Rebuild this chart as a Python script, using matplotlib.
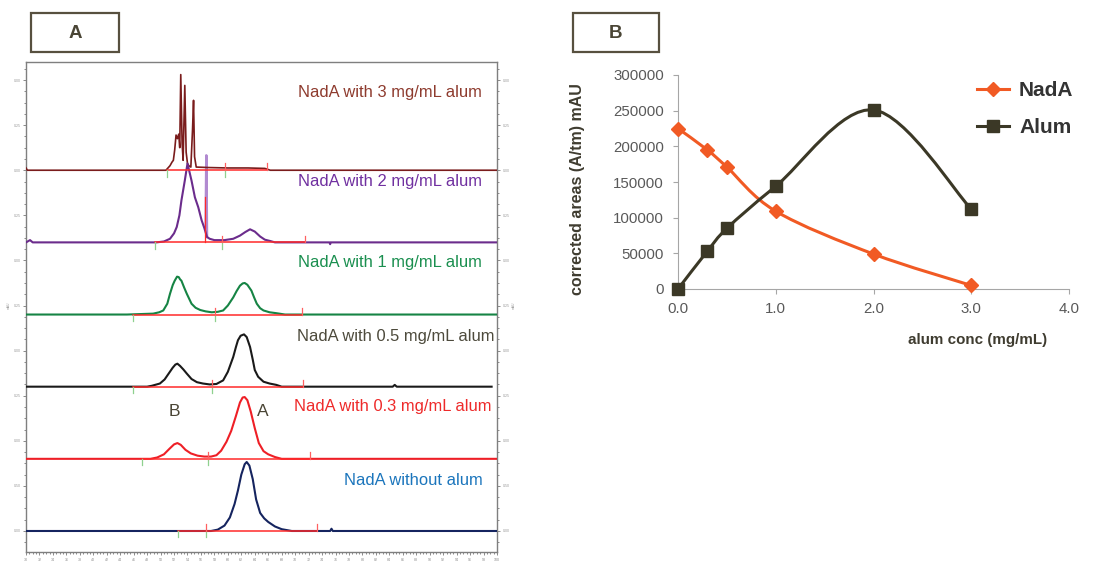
import numpy as np
import matplotlib
matplotlib.use("Agg")
import matplotlib.pyplot as plt
from matplotlib.patches import Rectangle, PathPatch
from matplotlib.path import Path
from matplotlib.lines import Line2D

plt.rcParams['font.family'] = ['Liberation Sans', 'DejaVu Sans']

# ---------------- panel A: chromatograms (time [min], signal above own baseline) ----------------
t_3 = [30.0, 30.2, 30.5, 50.8, 51.4, 51.7, 51.9, 52.1, 52.3, 52.5, 52.7, 52.85, 53.0, 53.2, 53.35,
       53.6, 53.8, 54.0, 54.2, 54.5, 54.75, 54.9, 55.05, 55.3, 57.0, 60.0, 63.0, 65.5, 66.3, 100.0]
s_3 = [0.05, 0.0, 0.0, 0.0, 0.1, 0.18, 0.22, 0.45, 0.78, 0.70, 0.80, 0.5, 2.12, 0.6, 0.22,
       1.88, 0.4, 0.15, 0.1, 0.07, 0.9, 1.55, 0.3, 0.07, 0.06, 0.05, 0.05, 0.04, 0.0, 0.0]

t_2 = [30.0, 30.6, 31.0, 49.4, 50.5, 51.4, 52.0, 52.4, 52.8, 53.1, 53.6, 54.0, 54.6, 55.1, 55.6,
       56.1, 56.5, 56.9, 57.3, 58.0, 59.5, 60.8, 61.8, 62.6, 63.3, 64.0, 64.8, 65.5, 66.3, 67.0,
       75.1, 75.2, 75.3, 100.0]
s_2 = [0.0, 0.05, 0.0, 0.0, 0.02, 0.08, 0.2, 0.34, 0.6, 0.93, 1.37, 1.75, 1.37, 1.0, 0.78,
       0.49, 0.32, 0.12, 0.08, 0.05, 0.05, 0.08, 0.15, 0.23, 0.29, 0.24, 0.13, 0.06, 0.03, 0.0,
       0.0, -0.04, 0.0, 0.0]
t_2_spike = [56.7, 56.8, 56.9]
s_2_spike = [0.3, 1.93, 0.12]

t_1 = [30.0, 45.0, 48.9, 49.8, 50.4, 51.0, 51.4, 51.8, 52.1, 52.45, 52.7, 52.9, 53.1, 53.5, 53.9,
       54.6, 55.2, 55.9, 56.7, 57.6, 58.5, 59.3, 60.0, 60.8, 61.3, 61.8, 62.2, 62.5, 62.9, 63.5,
       63.9, 64.3, 64.8, 65.3, 66.2, 67.2, 68.5, 100.0]
s_1 = [0.0, 0.0, 0.02, 0.05, 0.09, 0.24, 0.46, 0.65, 0.75, 0.84, 0.83, 0.78, 0.75, 0.6, 0.46,
       0.24, 0.15, 0.10, 0.07, 0.05, 0.06, 0.09, 0.2, 0.38, 0.52, 0.64, 0.69, 0.70, 0.66, 0.53,
       0.38, 0.24, 0.14, 0.09, 0.05, 0.03, 0.0, 0.0]

t_05 = [30.0, 48.0, 48.7, 49.9, 50.6, 51.2, 51.8, 52.2, 52.5, 52.9, 53.4, 53.9, 54.6, 55.4, 56.3,
        57.3, 58.3, 59.3, 60.0, 60.8, 61.2, 61.5, 61.9, 62.4, 62.8, 63.3, 63.7, 64.0, 64.5, 65.3,
        66.2, 67.2, 68.0, 84.5, 84.8, 85.1, 99.2]
s_05 = [0.0, 0.0, 0.02, 0.07, 0.16, 0.29, 0.42, 0.49, 0.51, 0.46, 0.38, 0.29, 0.17, 0.1, 0.07,
        0.05, 0.06, 0.14, 0.33, 0.66, 0.88, 1.03, 1.13, 1.16, 1.1, 0.88, 0.6, 0.37, 0.22, 0.11,
        0.07, 0.04, 0.0, 0.0, 0.04, 0.0, 0.0]

t_03 = [30.0, 48.5, 49.5, 50.5, 51.3, 52.0, 52.5, 53.0, 53.7, 54.5, 55.5, 56.5, 57.5, 58.3, 59.0,
        59.8, 60.5, 61.2, 61.8, 62.2, 62.5, 62.9, 63.4, 64.0, 64.6, 65.3, 66.0, 67.0, 68.0, 100.0]
s_03 = [0.0, 0.0, 0.03, 0.10, 0.22, 0.32, 0.35, 0.31, 0.20, 0.12, 0.07, 0.05, 0.05, 0.08, 0.18,
        0.38, 0.62, 0.95, 1.25, 1.36, 1.37, 1.30, 1.05, 0.68, 0.35, 0.17, 0.10, 0.04, 0.0, 0.0]

t_0 = [30.0, 57.5, 58.5, 59.5, 60.3, 61.0, 61.5, 62.0, 62.5, 62.8, 63.2, 63.7, 64.2, 64.8, 65.4,
       66.0, 67.0, 68.0, 69.5, 75.2, 75.4, 75.6, 100.0]
s_0 = [0.0, 0.0, 0.03, 0.12, 0.30, 0.60, 0.90, 1.25, 1.48, 1.53, 1.45, 1.15, 0.70, 0.40, 0.28,
       0.20, 0.10, 0.04, 0.0, 0.0, 0.05, 0.0, 0.0]

trace_times = [t_3, t_2, t_1, t_05, t_03, t_0]
trace_signals = [s_3, s_2, s_1, s_05, s_03, s_0]
trace_labels = ["NadA with 3 mg/mL alum", "NadA with 2 mg/mL alum", "NadA with 1 mg/mL alum",
                "NadA with 0.5 mg/mL alum", "NadA with 0.3 mg/mL alum", "NadA without alum"]
trace_offsets = [8.0, 6.4, 4.8, 3.2, 1.6, 0.0]

# integration baselines (start, end) and marker times
int_start = [50.9, 49.2, 45.9, 45.9, 47.3, 52.6]
int_end = [65.8, 71.5, 71.0, 71.2, 72.2, 73.2]
int_split = [59.6, 59.2, 58.1, 57.6, 57.1, 56.8]

x_ticks_A = list(range(30, 101, 2))
left_tick_labels = ["0.00", "0.50", "0.00", "0.25", "0.00", "0.25",
                    "0.00", "0.25", "0.00", "0.25", "0.00"]

# ---------------- panel B ----------------
conc = [0.0, 0.3, 0.5, 1.0, 2.0, 3.0]
nada_area = [225000, 195000, 171000, 109000, 49000, 5000]
alum_area = [0, 53000, 85000, 144000, 251000, 112000]

W, H = 1098, 578
fig = plt.figure(figsize=(W / 100, H / 100), dpi=100)

def fbox(x0, y0, x1, y1):
    return [x0 / W, 1 - y1 / H, (x1 - x0) / W, (y1 - y0) / H]

# ---------------- panel A ----------------
axA = fig.add_axes(fbox(26, 62, 497, 552))
line_cols = ["#7a1c1c", "#6b2c8c", "#168444", "#1a1a1a", "#ee1f26", "#15245f"]
label_cols = ["#8e3b2e", "#7030a0", "#1a8f4f", "#4d4a3c", "#ee2a2a", "#1b75bc"]
label_x = [97.8, 97.8, 97.8, 99.7, 99.2, 97.9]
label_y = [9.73, 7.76, 5.96, 4.32, 2.77, 1.11]

for i in range(6):
    off = trace_offsets[i]
    lw = 1.2 if i == 0 else 1.5
    axA.plot(trace_times[i], np.array(trace_signals[i]) + off, color=line_cols[i], lw=lw, zorder=3)
    axA.plot([int_start[i], int_end[i]], [off, off], color="#ff2a2a", lw=1.1, zorder=4)
    for tt in (int_start[i], int_split[i]):
        axA.plot([tt, tt], [off - 0.14, off], color="#8fd18f", lw=0.9, zorder=4)
    for tt in (int_split[i], int_end[i]):
        axA.plot([tt, tt], [off, off + 0.15], color="#ff6060", lw=0.9, zorder=4)
    axA.text(label_x[i], label_y[i], trace_labels[i], color=label_cols[i], fontsize=11.9,
             ha="right", va="center", zorder=5)

axA.plot(t_2_spike, np.array(s_2_spike) + trace_offsets[1], color="#b18ad0", lw=1.8, zorder=2)
axA.plot([56.6, 56.6], [trace_offsets[1], trace_offsets[1] + 1.0], color="#ff2a2a", lw=0.9, zorder=4)

axA.text(52.1, 2.64, "B", color="#4a4535", fontsize=12.5, ha="center", va="center")
axA.text(65.2, 2.64, "A", color="#4a4535", fontsize=12.5, ha="center", va="center")

axA.set_xlim(30, 100)
axA.set_ylim(-0.466, 10.40)
axA.set_xticks(x_ticks_A)
axA.set_xticklabels([str(v) for v in x_ticks_A], fontsize=2.6, color="#888888")
axA.set_xticks(np.arange(30, 100.1, 0.5), minor=True)
axA.set_yticks(range(11))
axA.set_yticklabels(left_tick_labels, fontsize=2.6, color="#999999")
axA.set_yticks(np.arange(-0.25, 10.3, 0.25), minor=True)
axA.tick_params(axis="both", which="both", direction="out", color="#777777", width=0.6)
axA.tick_params(axis="both", which="major", length=2.5, pad=1.5)
axA.tick_params(axis="both", which="minor", length=1.5)
axA.tick_params(axis="y", which="both", right=True, labelright=True)
for sp in axA.spines.values():
    sp.set_color("#7f7f7f")
    sp.set_linewidth(1.0)
fig.text(9 / W, 1 - 305 / H, "mAU", fontsize=2.4, color="#999999", rotation=90, ha="center", va="center")
fig.text(514 / W, 1 - 305 / H, "mAU", fontsize=2.4, color="#999999", rotation=90, ha="center", va="center")

# ---------------- panel B ----------------
axB = fig.add_axes(fbox(678, 75, 1069, 289))
axB.set_xlim(0, 4)
axB.set_ylim(0, 300000)
bw, bh = 1069 - 678, 289 - 75

def smooth(ax, xs, ys, color):
    # Excel-style smoothed line: Catmull-Rom -> cubic Bezier, computed in pixel space
    p = np.column_stack([np.array(xs) / 4 * bw, np.array(ys) / 300000 * bh])
    n = len(p)
    verts = [p[0]]
    codes = [Path.MOVETO]
    for k in range(n - 1):
        p0 = p[k - 1] if k > 0 else p[k]
        p3 = p[k + 2] if k + 2 < n else p[k + 1]
        c1 = p[k] + (p[k + 1] - p0) / 6
        c2 = p[k + 1] - (p3 - p[k]) / 6
        verts += [c1, c2, p[k + 1]]
        codes += [Path.CURVE4] * 3
    v = np.array(verts)
    v[:, 0] = v[:, 0] / bw * 4
    v[:, 1] = v[:, 1] / bh * 300000
    ax.add_patch(PathPatch(Path(v, codes), fill=False, edgecolor=color, lw=2.2, zorder=3))

orange = "#f15a24"
dark = "#3b3826"
smooth(axB, conc, nada_area, orange)
smooth(axB, conc, alum_area, dark)
axB.plot(conc, nada_area, linestyle="none", marker="D", markersize=7, color=orange, zorder=4, clip_on=False)
axB.plot(conc, alum_area, linestyle="none", marker="s", markersize=8, color=dark, zorder=4, clip_on=False)

axB.set_xticks([0, 1, 2, 3, 4])
axB.set_xticklabels(["0.0", "1.0", "2.0", "3.0", "4.0"])
axB.set_yticks([0, 50000, 100000, 150000, 200000, 250000, 300000])
axB.set_yticklabels(["0", "50000", "100000", "150000", "200000", "250000", "300000"])
axB.tick_params(axis="both", direction="out", length=3.6, width=0.8, color="#a6a6a6",
                labelsize=10.8, labelcolor="#595959")
axB.tick_params(axis="y", pad=6.5)
axB.tick_params(axis="x", pad=5.8)
for s in ("top", "right"):
    axB.spines[s].set_visible(False)
for s in ("left", "bottom"):
    axB.spines[s].set_color("#a6a6a6")
    axB.spines[s].set_linewidth(0.8)

axB.text(-0.258, 0.467, "corrected areas (A/tm) mAU", transform=axB.transAxes, rotation=90,
         ha="center", va="center", fontsize=11.5, fontweight="bold", color="#3f3c30")
axB.text(0.944, -0.238, "alum conc (mg/mL)", transform=axB.transAxes, ha="right", va="center",
         fontsize=10.9, fontweight="bold", color="#3f3c30")

handles = [Line2D([], [], color=orange, lw=2.2, marker="D", markersize=7),
           Line2D([], [], color=dark, lw=2.2, marker="s", markersize=8)]
fig.legend(handles, ["NadA", "Alum"], loc="upper left", bbox_to_anchor=(967 / W, 1 - 71 / H),
           frameon=False, prop={"weight": "bold", "size": 15}, handlelength=1.5,
           handletextpad=0.5, labelspacing=0.85, borderpad=0, labelcolor="#333333")

# ---------------- panel letters ----------------
for (x0, x1, letter) in [(31, 119, "A"), (573, 659, "B")]:
    fig.add_artist(Rectangle((x0 / W, 1 - 52 / H), (x1 - x0) / W, 39 / H, transform=fig.transFigure,
                             fill=False, edgecolor="#57503f", lw=1.6))
    fig.text((x0 + x1) / 2 / W, 1 - 33 / H, letter, fontsize=13.5, fontweight="bold",
             color="#4a4535", ha="center", va="center")

fig.savefig("out.png", dpi=100)
